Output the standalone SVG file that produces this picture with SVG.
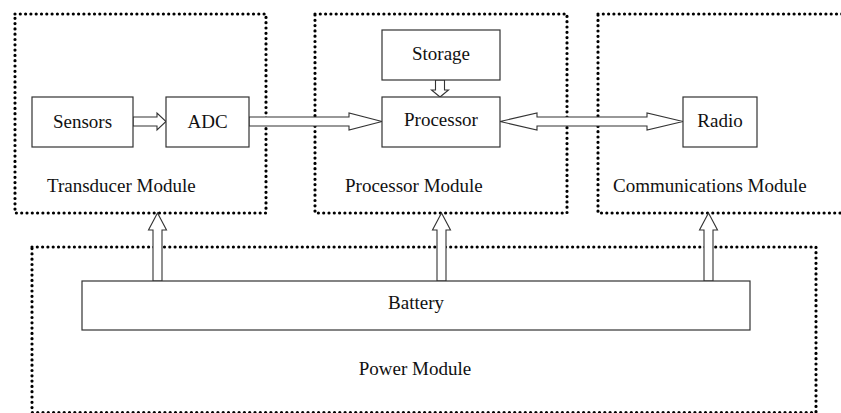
<svg xmlns="http://www.w3.org/2000/svg" width="841" height="413" viewBox="0 0 841 413">
<style>
.mod{fill:none;stroke:#000;stroke-width:3.2;stroke-linecap:round;stroke-dasharray:0 5.3}
.box{fill:#fff;stroke:#333;stroke-width:1.2}
.arr{fill:#fff;stroke:#333;stroke-width:1.1;stroke-linejoin:miter}
text{font-family:"Liberation Serif","Times New Roman",serif;font-size:19px;fill:#111}
.c{text-anchor:middle}
</style>
<rect width="841" height="413" fill="#fff"/>
<g id="transducer-module"><rect class="mod" x="15" y="14" width="251" height="199"/><text x="47" y="192">Transducer Module</text></g>
<g id="processor-module"><rect class="mod" x="315" y="14" width="252" height="199"/><text x="345" y="192">Processor Module</text></g>
<g id="communications-module"><rect class="mod" x="598" y="14" width="260" height="199"/><text x="613" y="192">Communications Module</text></g>
<g id="power-module"><rect class="mod" x="32" y="247" width="784" height="165.5"/><text class="c" x="415" y="375">Power Module</text></g>
<g id="connectors">
<polygon class="arr" points="133,117 157,117 157,113 166,121.5 157,130 157,126 133,126"/>
<polygon class="arr" points="249,117 349,117 349,113 382,121.5 349,130 349,126 249,126"/>
<polygon class="arr" points="537,117 647,117 647,113 683,121.5 647,130 647,126 537,126 537,130 500,121.5 537,113"/>
<polygon class="arr" points="435.5,80 435.5,90 431.5,90 440,97 448.5,90 444.5,90 444.5,80"/>
<polygon class="arr" points="153,281 153,230 148.5,230 157.5,213 166.5,230 162,230 162,281"/>
<polygon class="arr" points="437,281 437,230 432.5,230 441.5,213 450.5,230 446,230 446,281"/>
<polygon class="arr" points="704,281 704,230 699.5,230 708.5,213 717.5,230 713,230 713,281"/>
</g>
<g id="sensors"><rect class="box" x="32" y="97" width="101" height="50"/><text class="c" x="82.5" y="128">Sensors</text></g>
<g id="adc"><rect class="box" x="166" y="97" width="83" height="50"/><text class="c" x="207.5" y="128">ADC</text></g>
<g id="storage"><rect class="box" x="382" y="30" width="118" height="50"/><text class="c" x="441" y="60">Storage</text></g>
<g id="processor"><rect class="box" x="382" y="97" width="118" height="50"/><text class="c" x="441" y="126">Processor</text></g>
<g id="radio"><rect class="box" x="683" y="97" width="74" height="50"/><text class="c" x="720" y="127">Radio</text></g>
<g id="battery"><rect class="box" x="82" y="281" width="668" height="49"/><text class="c" x="416" y="309">Battery</text></g>
</svg>
